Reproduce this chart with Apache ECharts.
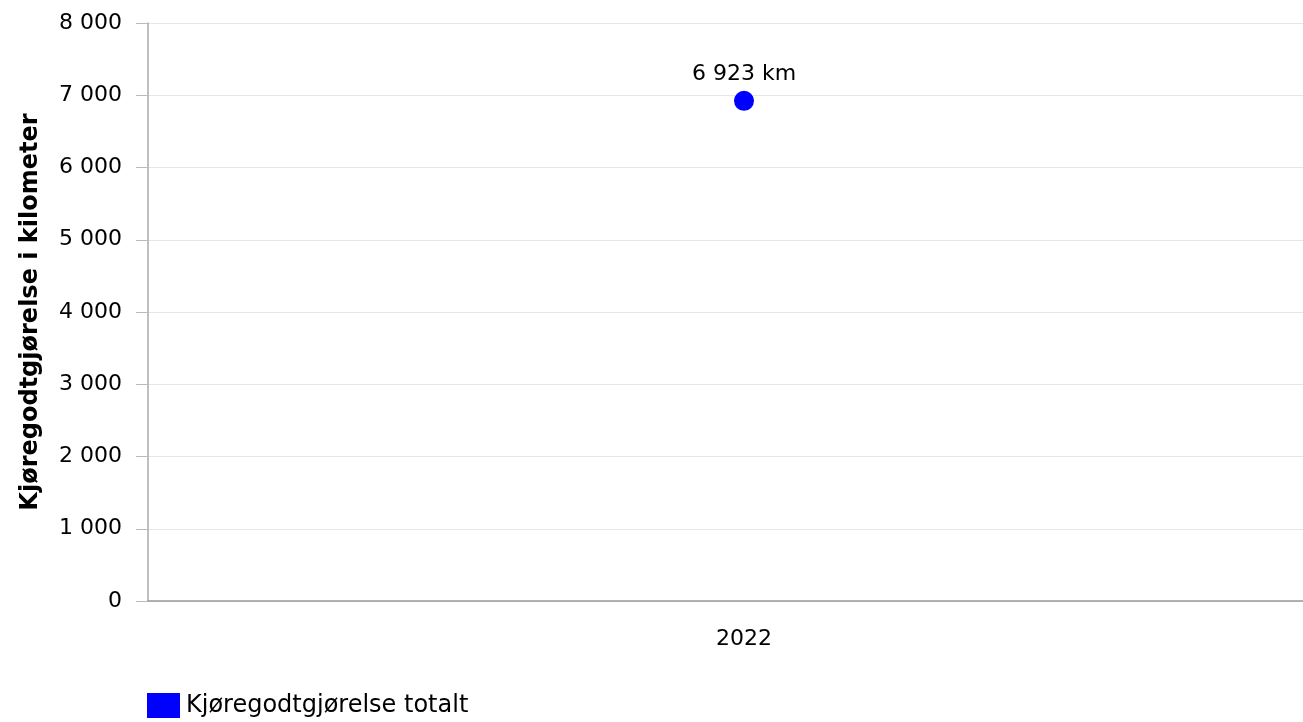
<!DOCTYPE html>
<html>
<head>
<meta charset="utf-8">
<script src="https://cdn.jsdelivr.net/npm/echarts@6/dist/echarts.min.js"></script>
<style>html,body{margin:0;padding:0;background:#fff;overflow:hidden}#c{width:1303px;height:722px}</style>
</head>
<body>
<div id="c"></div>
<script>
var categories = ['2022'];
var seriesName = 'Kjøregodtgjørelse totalt';
var values = [6923];
var yAxisTitle = 'Kjøregodtgjørelse i kilometer';

function fmt(v){ return String(v).replace(/\B(?=(\d{3})+(?!\d))/g, ' '); }
var FONT = 'DejaVu Sans, Verdana, sans-serif';
var chart = echarts.init(document.getElementById('c'));
chart.setOption({
  animation: false,
  textStyle: { fontFamily: FONT },
  grid: { left: 148, width: 1192, top: 23, bottom: 121, containLabel: false, outerBoundsMode: 'none' },
  legend: {
    left: 147, bottom: 4, itemWidth: 33, itemHeight: 25, itemGap: 20, padding: 0,
    icon: 'rect',
    textStyle: { fontSize: 24, color: '#000', fontFamily: FONT, padding: [0, 0, 0, 1] },
    data: [seriesName]
  },
  xAxis: {
    type: 'category', data: categories,
    axisLine: { lineStyle: { color: '#999', width: 1.5 } },
    axisTick: { alignWithLabel: true, length: 10, lineStyle: { color: '#999' } },
    axisLabel: { fontSize: 22, color: '#000', margin: 27, fontFamily: FONT }
  },
  yAxis: {
    type: 'value', min: 0, max: 8000, interval: 1000,
    name: yAxisTitle, nameLocation: 'middle', nameGap: 105, nameRotate: 90,
    nameTextStyle: { fontSize: 24, fontWeight: 'bold', color: '#000', fontFamily: FONT },
    axisLine: { show: true, lineStyle: { color: '#aaa', width: 1.5 } },
    axisTick: { show: true, inside: false, length: 12, lineStyle: { color: '#bbb' } },
    axisLabel: { fontSize: 22, color: '#000', margin: 26, formatter: fmt, fontFamily: FONT },
    splitLine: { lineStyle: { color: '#e6e6e6' } }
  },
  series: [{
    name: seriesName, type: 'scatter', data: values,
    symbol: 'circle', symbolSize: 20,
    itemStyle: { color: '#0000ff', opacity: 1 },
    label: { show: true, position: 'top', distance: 6, fontSize: 22, color: '#000',
      fontFamily: FONT, formatter: function(p){ return fmt(p.value) + ' km'; } }
  }]
});
</script>
</body>
</html>
